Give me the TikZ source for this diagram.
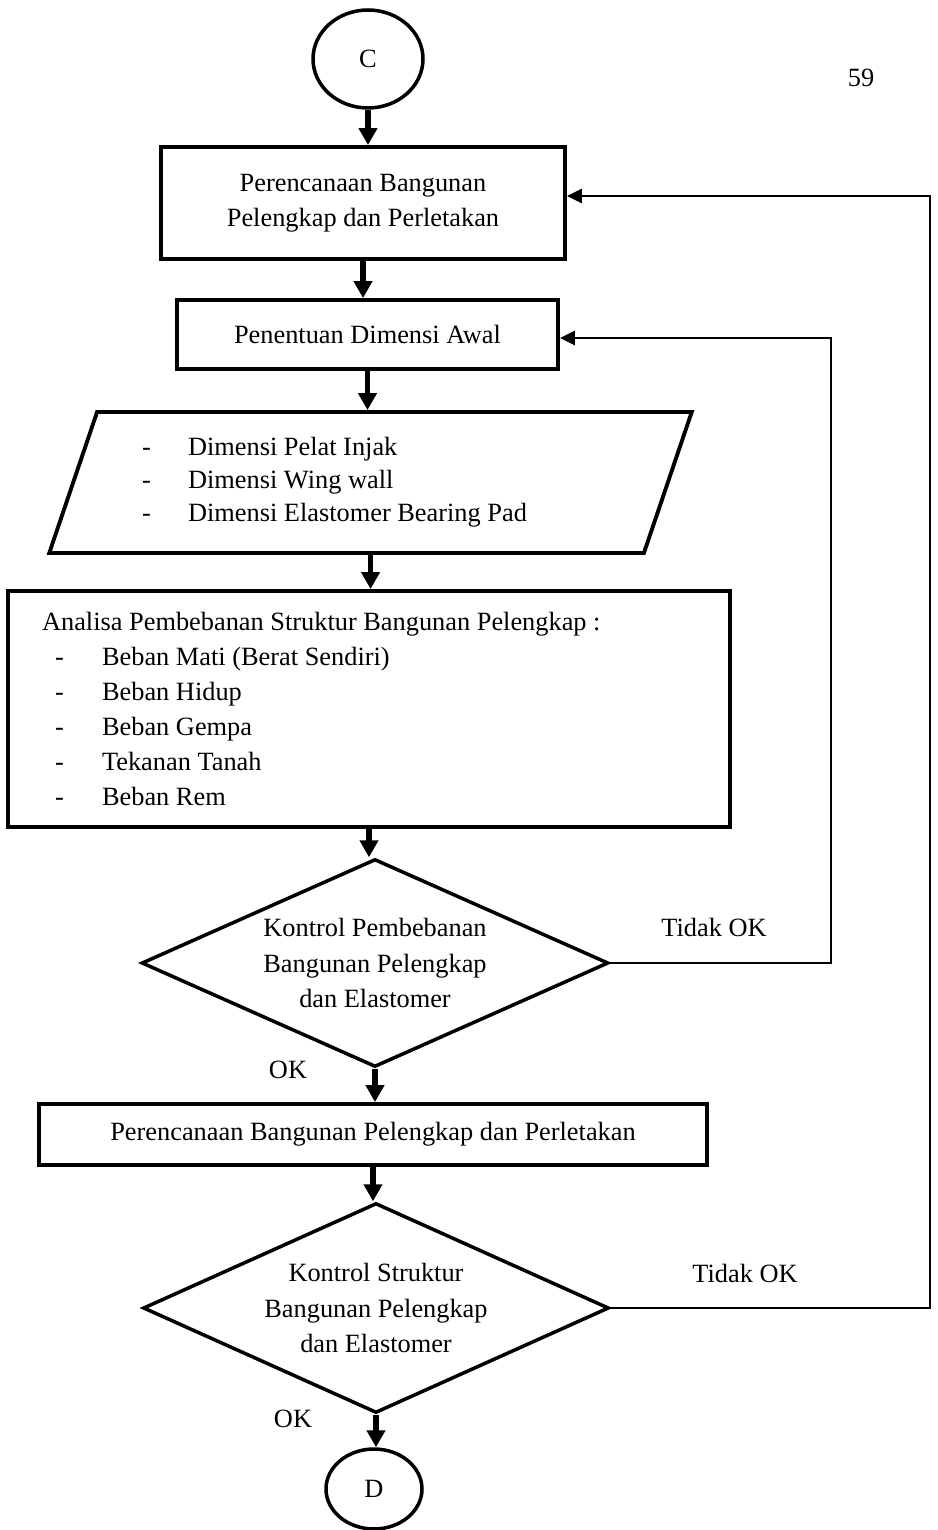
\documentclass[tikz,border=0pt]{standalone}
\usepackage{fontspec}
\setmainfont{Liberation Serif}
\usetikzlibrary{shapes.geometric, arrows.meta}

\begin{document}
\begin{tikzpicture}[
        x=0.02cm, y=-0.02cm,
        every node/.style={font=\fontsize{15}{20}\selectfont},
        block/.style={rectangle, draw, line width=2.2pt, align=center},
        conn/.style={ellipse, draw, line width=2pt, inner sep=0pt},
        io/.style={trapezium, trapezium left angle=68, trapezium right angle=112, trapezium stretches=true, draw, line width=2.2pt},
        decision/.style={diamond, draw, line width=2pt, aspect=2.25, inner sep=0pt, align=center},
        arrow/.style={line width=3.2pt, -{Triangle[length=0.34cm, width=0.36cm]}},
        loopback/.style={line width=1.4pt, -{Triangle[length=0.3cm, width=0.28cm]}}
    ]
    \useasboundingbox (0,0) rectangle (937,1530);

    % Page number
    \node (hal) at (861,78) {59};

    % Connector C
    \node [conn, minimum width=2.2cm, minimum height=1.96cm] (conC) at (368,59) {C};

    % Planning
    \node [block, minimum width=8.08cm, minimum height=2.24cm] (plan1) at (363,203) {Perencanaan Bangunan\\ Pelengkap dan Perletakan};

    % Initial dimension
    \node [block, minimum width=7.62cm, minimum height=1.38cm] (dimawal) at (367.5,334.5) {Penentuan Dimensi Awal};

    % Input: dimensions
    \node [io, minimum width=12.86cm, minimum height=2.82cm, text width=9.14cm, align=flush left, font=\fontsize{15}{18.7}\selectfont] (dimin) at (370.5,482.5) {%
        \makebox[0.92cm][l]{-}Dimensi Pelat Injak\\
        \makebox[0.92cm][l]{-}Dimensi Wing wall\\
        \makebox[0.92cm][l]{-}Dimensi Elastomer Bearing Pad};

    % Load analysis
    \node [block, minimum width=14.44cm, minimum height=4.72cm, text width=13.08cm, align=flush left] (analisa) at (369,709) {%
        Analisa Pembebanan Struktur Bangunan Pelengkap :\\
        \hspace*{0.26cm}\makebox[0.94cm][l]{-}Beban Mati (Berat Sendiri)\\
        \hspace*{0.26cm}\makebox[0.94cm][l]{-}Beban Hidup\\
        \hspace*{0.26cm}\makebox[0.94cm][l]{-}Beban Gempa\\
        \hspace*{0.26cm}\makebox[0.94cm][l]{-}Tekanan Tanah\\
        \hspace*{0.26cm}\makebox[0.94cm][l]{-}Beban Rem};

    % Load check
    \node [decision, minimum width=9.34cm, minimum height=4.16cm] (kontrol1) at (375,963) {Kontrol Pembebanan\\ Bangunan Pelengkap\\ dan Elastomer};

    % Planning (second)
    \node [block, minimum width=13.36cm, minimum height=1.22cm] (plan2) at (373,1134.5) {Perencanaan Bangunan Pelengkap dan Perletakan};

    % Structure check
    \node [decision, minimum width=9.32cm, minimum height=4.2cm] (kontrol2) at (376,1308) {Kontrol Struktur\\ Bangunan Pelengkap\\ dan Elastomer};

    % Connector D
    \node [conn, minimum width=1.92cm, minimum height=1.6cm] (conD) at (374,1489) {D};

    % Labels
    \node (tidak1) at (714,927) {Tidak OK};
    \node (ok1) at (288,1070) {OK};
    \node (tidak2) at (745,1273) {Tidak OK};
    \node (ok2) at (293,1419) {OK};

    % Corners of the return lines
    \coordinate (balik1) at (831,338);
    \coordinate (balik2) at (930,196);

    % Connecting Lines
    \draw [arrow] (conC.south) -- (conC.south |- plan1.north);
    \draw [arrow] (plan1.south) -- (plan1.south |- dimawal.north);
    \draw [arrow] (dimawal.south) -- (dimawal.south |- dimin.north);
    \draw [arrow] (dimin.south) -- (dimin.south |- analisa.north);
    \draw [arrow] (analisa.south) -- (analisa.south |- kontrol1.north);
    \draw [arrow] (kontrol1.south) -- (kontrol1.south |- plan2.north);
    \draw [arrow] (plan2.south) -- (plan2.south |- kontrol2.north);
    \draw [arrow] (kontrol2.south) -- (kontrol2.south |- conD.north);

    \draw [loopback] (kontrol1.east) -| (balik1) -- (balik1 -| dimawal.east);
    \draw [loopback] (kontrol2.east) -| (balik2) -- (balik2 -| plan1.east);

    \end{tikzpicture}
\end{document}
